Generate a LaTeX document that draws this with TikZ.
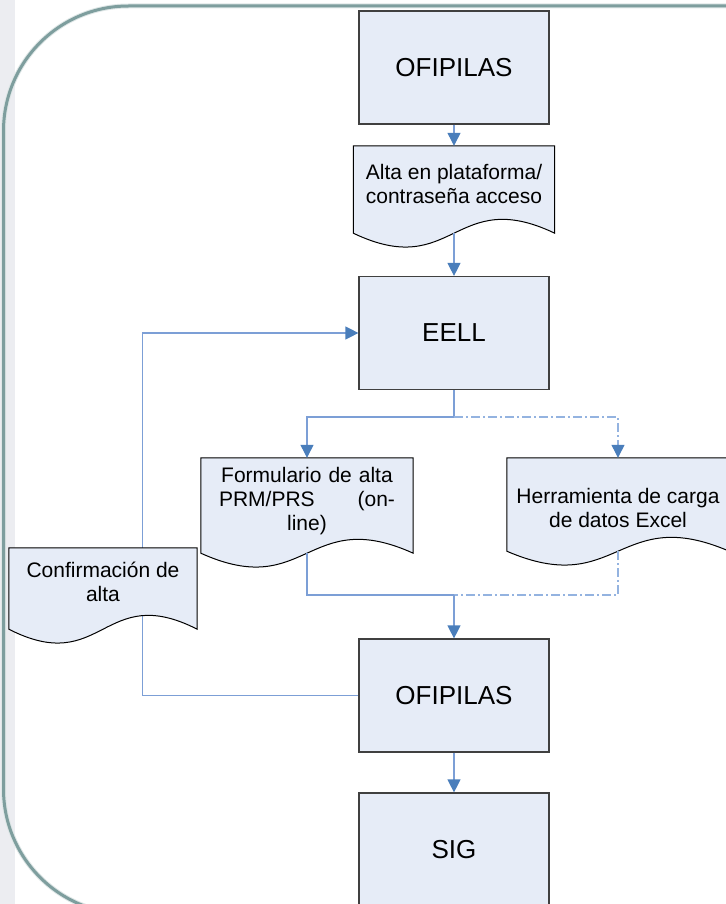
\documentclass[tikz,border=0pt]{standalone}
\usepackage{fontspec}
\setmainfont{Liberation Sans}
\usetikzlibrary{arrows.meta,calc}
\pgfdeclarelayer{bg}
\pgfdeclarelayer{docs}
\pgfsetlayers{bg,docs,main}

\definecolor{boxfill}{HTML}{E6ECF7}
\definecolor{boxline}{HTML}{404040}
\definecolor{flowblue}{HTML}{4A7EBB}
\definecolor{linkblue}{HTML}{7C9FD6}
\definecolor{dashblue}{HTML}{94B3E0}
\definecolor{framecol}{HTML}{7E9E9E}
\definecolor{stripcol}{HTML}{ECEDF1}

\newcommand{\docshape}[1]{
    \begin{pgfonlayer}{docs}
        \draw[docline] (#1.north west) -- (#1.north east) -- (#1.south east)
            .. controls ($(#1.south)+(0,-48)$) and ($(#1.south)+(0,48)$) .. (#1.south west) -- cycle;
    \end{pgfonlayer}
}

\begin{document}
\begin{tikzpicture}[x=1pt, y=-1pt]
        \tikzstyle{box}=[draw=boxline,line width=1.2pt,fill=boxfill,minimum width=190pt,minimum height=113pt,font=\fontsize{26}{31}\selectfont]
        \tikzstyle{doc}=[inner sep=0pt]
        \tikzstyle{doctext}=[align=center,inner sep=0pt,font=\fontsize{21}{24}\selectfont]
        \tikzstyle{docline}=[draw=black,line width=1pt,fill=boxfill]
        \tikzstyle{link}=[draw=linkblue,line width=1.2pt]
        \tikzstyle{linkdash}=[link,draw=dashblue,dash pattern=on 9pt off 3pt on 2pt off 3pt]
        \tikzstyle{flow}=[link,-{Triangle[width=13pt,length=13pt,color=flowblue]}]
        \tikzstyle{flowdash}=[linkdash,-{Triangle[width=13pt,length=13pt,color=flowblue]}]

        \useasboundingbox (0,0) rectangle (725,904);

        \node[box] (ofi_1) at (454,67.5) {OFIPILAS};
        \node[doc,minimum width=201pt,minimum height=87pt,
            label={[doctext,yshift=6pt]center:{Alta en plataforma/\\contraseña acceso}}] (alta) at (454,189.5) {};
        \node[box] (eell) at (454,333) {EELL};
        \node[doc,minimum width=212pt,minimum height=95pt,
            label={[doctext,text width=176pt,yshift=4pt]center:{Formulario de alta\\\makebox[176pt]{PRM/PRS\hfill(on-}\\line)}}] (form) at (307,505.5) {};
        \node[doc,minimum width=222pt,minimum height=93pt,
            label={[doctext,yshift=-3pt]center:{Herramienta de carga\\de datos Excel}}] (herr) at (618,504.5) {};
        \node[doc,minimum width=188pt,minimum height=81pt,
            label={[doctext,yshift=7pt]center:{Confirmación de\\alta}}] (conf) at (103,588.5) {};
        \node[box] (ofi_2) at (454,695.5) {OFIPILAS};
        \node[box] (sig) at (454,849.5) {SIG};

        \docshape{alta}
        \docshape{form}
        \docshape{herr}
        \docshape{conf}

        \coordinate (s_1) at (454,417);
        \coordinate (j_1) at (454,595);

        \draw[flow] (ofi_1) -- (alta);
        \draw[flow] (alta) -- (eell);
        \draw[link] (eell) -- (s_1);
        \draw[flow] (s_1) -| (form);
        \draw[flowdash] (s_1) -| (herr);
        \draw[link] (form) |- (j_1);
        \draw[linkdash] (herr) |- (j_1);
        \draw[flow] (j_1) -- (ofi_2);
        \draw[flow] (ofi_2) -- (sig);

        % frame and the way back to EELL
        \begin{pgfonlayer}{bg}
            \fill[stripcol] (0,0) rectangle (15,904);
            \draw[framecol!25,line width=5pt,rounded corners=125pt] (3.5,6) rectangle (860,914);
            \draw[framecol,line width=3pt,rounded corners=125pt] (3.5,6) rectangle (860,914);
            \draw[flow] (ofi_2.west) -- ++(-216,0) |- (eell.west);
        \end{pgfonlayer}
\end{tikzpicture}
\end{document}
